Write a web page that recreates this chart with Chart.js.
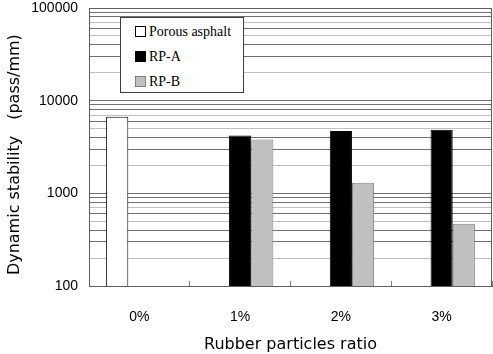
<!DOCTYPE html>
<html>
<head>
<meta charset="utf-8">
<script src="https://cdn.jsdelivr.net/npm/chart.js@4/dist/chart.umd.min.js"></script>
<style>
  body { margin: 0; background: #fff; }
  #wrap { position: relative; width: 493px; height: 354px; }
  #legend {
    position: absolute; left: 120px; top: 17px; width: 122px; height: 74px;
    border: 1px solid #404040; background: #fff;
    font-family: "Liberation Serif", "DejaVu Serif", serif; font-size: 14px; color: #000;
  }
  #legend .item { position: absolute; left: 14px; height: 16px; line-height: 16px; white-space: nowrap; }
  #legend .box { display: inline-block; width: 9px; height: 9px; border: 1px solid #000; vertical-align: -1px; margin-right: 3px; }
</style>
</head>
<body>
<div id="wrap">
  <canvas id="chart" width="493" height="354"></canvas>
  <div id="legend"></div>
</div>
<script>
// Du lieu bieu do
const categories = ['0%', '1%', '2%', '3%'];
const seriesNames = ['Porous asphalt', 'RP-A', 'RP-B'];
const porousValues = [6700, null, null, null];
const rpAValues = [null, 4200, 4700, 4850];
const rpBValues = [null, 3800, 1300, 470];
const yMajorTicks = [100, 1000, 10000, 100000];

const fills = ['#ffffff', '#000000', '#c0c0c0'];
const borders = ['#000000', '#000000', '#808080'];

// Ve khung vien vung bieu do
const frame = {
  id: 'frame',
  afterDraw(chart) {
    const a = chart.chartArea, ctx = chart.ctx;
    ctx.save();
    ctx.strokeStyle = '#606060';
    ctx.lineWidth = 1;
    ctx.strokeRect(Math.round(a.left) + 0.5, Math.round(a.top) + 0.5,
      Math.round(a.right - a.left) - 1, Math.round(a.bottom - a.top));
    ctx.restore();
  }
};

function mantissa(v) {
  return Math.round(v / Math.pow(10, Math.floor(Math.log10(v) + 1e-9)) * 100) / 100;
}

const chart = new Chart(document.getElementById('chart'), {
  type: 'bar',
  data: {
    labels: categories,
    datasets: [porousValues, rpAValues, rpBValues].map((d, i) => ({
      label: seriesNames[i],
      data: d,
      backgroundColor: fills[i],
      borderColor: borders[i],
      borderWidth: 1,
      categoryPercentage: 0.66,
      barPercentage: 1
    }))
  },
  options: {
    responsive: false,
    animation: false,
    layout: { padding: { top: 0, right: 1, left: 0, bottom: 0 } },
    plugins: { legend: { display: false }, tooltip: { enabled: false } },
    scales: {
      x: {
        grid: { drawOnChartArea: false, drawTicks: true, tickLength: -5, color: '#808080', offset: true },
        border: { color: '#606060' },
        ticks: { color: '#000', padding: 28, font: { family: 'Liberation Sans', size: 14 } },
        title: { display: true, text: 'Rubber particles ratio', color: '#000',
                 font: { family: 'DejaVu Sans', size: 16 }, padding: { top: 2, bottom: 0 } },
        afterFit(s) { s.height = 68; }
      },
      y: {
        type: 'logarithmic',
        min: 100,
        max: 100000,
        grid: {
          drawTicks: false,
          color: ctx => {
            const m = mantissa(ctx.tick.value);
            return (m === 2 || m === 5 || m === 7) ? '#c0c0c0' : '#707070';
          }
        },
        border: { color: '#606060' },
        afterBuildTicks(s) {
          s.ticks = s.ticks.filter(t => Number.isInteger(mantissa(t.value)));
        },
        ticks: {
          autoSkip: false,
          color: '#000',
          padding: 11,
          font: { family: 'Liberation Sans', size: 14 },
          callback: v => yMajorTicks.includes(v) ? String(v) : ''
        },
        title: { display: true, text: 'Dynamic stability\u3000(pass/mm)   ', color: '#000',
                 font: { family: 'DejaVu Sans', size: 16 }, padding: { top: 5, bottom: 0 } },
        afterFit(s) { s.width = 89; s.paddingTop = 8; s.paddingBottom = 0; }
      }
    }
  },
  plugins: [frame]
});

// Chu giai (legend) tu dataset
const legend = document.getElementById('legend');
chart.data.datasets.forEach((ds, i) => {
  const item = document.createElement('div');
  item.className = 'item';
  item.style.top = (6 + i * 25) + 'px';
  item.innerHTML = '<span class="box" style="background:' + ds.backgroundColor +
    ';border-color:' + (i === 2 ? '#808080' : '#000') + '"></span>' + ds.label;
  legend.appendChild(item);
});
</script>
</body>
</html>
